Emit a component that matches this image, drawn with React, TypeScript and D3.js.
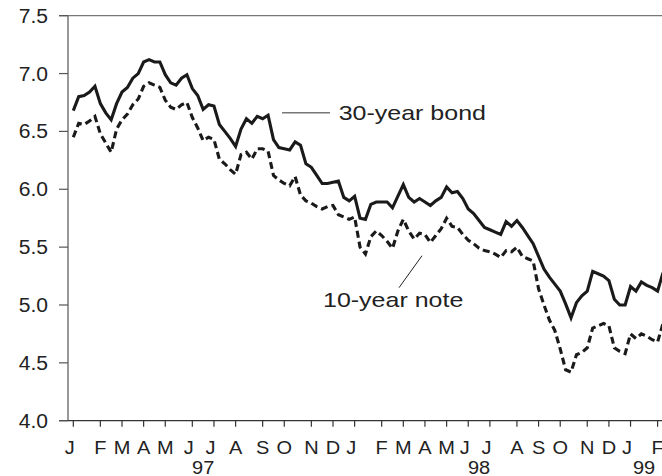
import React from "react";
import * as d3 from "d3";

// Weekly yields, first week of Jan 1997 through early Feb 1999
const bond30: number[] = [
  6.68, 6.8, 6.81, 6.84, 6.89, 6.74, 6.66, 6.6, 6.74, 6.84,
  6.88, 6.96, 7.0, 7.1, 7.12, 7.1, 7.1, 6.99, 6.92, 6.9,
  6.96, 6.99, 6.87, 6.81, 6.69, 6.73, 6.72, 6.56, 6.5, 6.44,
  6.37, 6.52, 6.61, 6.57, 6.63, 6.61, 6.64, 6.43, 6.36, 6.35,
  6.34, 6.41, 6.38, 6.22, 6.19, 6.12, 6.05, 6.05, 6.06, 6.07,
  5.93, 5.9, 5.94, 5.75, 5.74, 5.87, 5.89, 5.89, 5.89, 5.84,
  5.94, 6.04, 5.93, 5.89, 5.92, 5.89, 5.86, 5.9, 5.93, 6.02,
  5.97, 5.98, 5.92, 5.83, 5.79, 5.73, 5.67, 5.65, 5.63, 5.61,
  5.72, 5.68, 5.73, 5.67, 5.6, 5.53, 5.42, 5.31, 5.24, 5.18,
  5.12, 5.01, 4.89, 5.02, 5.08, 5.12, 5.29, 5.27, 5.25, 5.21,
  5.05, 5.0, 5.0, 5.16, 5.12, 5.2, 5.17, 5.15, 5.12, 5.28,
];

const note10: number[] = [
  6.45, 6.57, 6.56, 6.59, 6.63, 6.48, 6.4, 6.32, 6.52, 6.6,
  6.65, 6.73, 6.78, 6.89, 6.92, 6.9, 6.88, 6.77, 6.71, 6.69,
  6.73, 6.75, 6.62, 6.53, 6.42, 6.45, 6.43, 6.26, 6.22, 6.17,
  6.13, 6.3, 6.32, 6.26, 6.35, 6.35, 6.33, 6.12, 6.08, 6.05,
  6.03, 6.11, 5.95, 5.9, 5.88, 5.85, 5.83, 5.85, 5.86, 5.78,
  5.76, 5.74, 5.76, 5.5, 5.44, 5.59, 5.64, 5.6, 5.55, 5.49,
  5.64, 5.74, 5.64, 5.57, 5.62, 5.61, 5.54, 5.6, 5.66, 5.75,
  5.68, 5.67, 5.61, 5.56, 5.53, 5.49, 5.47, 5.46, 5.44, 5.41,
  5.47, 5.46, 5.5, 5.42, 5.4, 5.38, 5.14, 5.0, 4.87, 4.78,
  4.62, 4.44, 4.42, 4.57, 4.59, 4.63, 4.8, 4.82, 4.84, 4.82,
  4.63, 4.6, 4.58, 4.75, 4.71, 4.75, 4.73, 4.7, 4.68, 4.84,
];

// Week index of the first week of each month
const monthTickIdx = [0, 5, 9, 13, 17, 22, 26, 30, 35, 39, 44, 48, 52, 57, 61, 65, 69, 73, 77, 82, 86, 90, 95, 99, 103, 108];
const monthLabels = ["J", "F", "M", "A", "M", "J", "J", "A", "S", "O", "N", "D", "J", "F", "M", "A", "M", "J", "J", "A", "S", "O", "N", "D", "J", "F"];
const yearLabels = ["97", "98", "99"];
const yearLabelIdx = [24, 75, 105.5];
const yTicks = [4.0, 4.5, 5.0, 5.5, 6.0, 6.5, 7.0, 7.5];

export default function App() {
  const W = 662;
  const H = 476;
  const left = 68;
  const x = d3.scaleLinear().domain([0, 108]).range([73.3, 657.6]);
  const y = d3.scaleLinear().domain([4, 7.5]).range([420.7, 15.7]);
  const line = d3
    .line<number>()
    .x((_, i) => x(i))
    .y((d) => y(d))
    .curve(d3.curveLinear);

  const font = "'Liberation Sans', Arial, Helvetica, sans-serif";
  const axisSx = 1.08;
  const annSx = 1.19;
  const textColor = "#222";

  return (
    <svg
      width={W}
      height={H}
      style={{ position: "absolute", left: 0, top: 0, background: "#fff" }}
    >
      {/* frame */}
      <line x1={59} x2={W} y1={y(7.5)} y2={y(7.5)} stroke="#777" strokeWidth={1.3} />
      <line x1={left} x2={left} y1={y(7.5)} y2={y(4)} stroke="#777" strokeWidth={1.5} />
      <line x1={59} x2={W} y1={y(4)} y2={y(4)} stroke="#333" strokeWidth={1.3} />

      {/* y ticks & labels */}
      {yTicks.map((t) => (
        <g key={t}>
          <line x1={59} x2={left} y1={y(t)} y2={y(t)} stroke="#555" strokeWidth={1.2} />
          <text
            transform={`translate(48,${y(t)}) scale(${axisSx},1)`}
            dy="0.36em"
            textAnchor="end"
            fontFamily={font}
            fontSize={19.5}
            fill={textColor}
          >
            {t.toFixed(1)}
          </text>
        </g>
      ))}

      {/* x ticks & month labels */}
      {monthTickIdx.map((idx, k) => (
        <g key={k}>
          <line x1={x(idx)} x2={x(idx)} y1={y(4)} y2={y(4) + 6} stroke="#333" strokeWidth={1.2} />
          <text
            transform={`translate(${x(idx) + (monthLabels[k] === "J" ? -3.5 : 0)},454) scale(${axisSx},1)`}
            textAnchor="middle"
            fontFamily={font}
            fontSize={18.5}
            fill={textColor}
          >
            {monthLabels[k]}
          </text>
        </g>
      ))}
      {yearLabels.map((lab, k) => (
        <text
          key={lab}
          transform={`translate(${x(yearLabelIdx[k])},474) scale(${axisSx},1)`}
          textAnchor="middle"
          fontFamily={font}
          fontSize={18.5}
          fill={textColor}
        >
          {lab}
        </text>
      ))}

      {/* series */}
      <path d={line(note10) || ""} fill="none" stroke="#1a1a1a" strokeWidth={3.1} strokeDasharray="7,4" strokeLinejoin="miter" />
      <path d={line(bond30) || ""} fill="none" stroke="#1a1a1a" strokeWidth={3.1} strokeLinejoin="miter" />

      {/* annotations */}
      <line x1={282} x2={330} y1={112.7} y2={112.7} stroke="#777" strokeWidth={1.5} />
      <text
        transform={`translate(338.7,120) scale(${annSx},1)`}
        fontFamily={font}
        fontSize={21}
        fill={textColor}
      >
        30-year bond
      </text>
      <line x1={399} x2={422} y1={287.7} y2={255.7} stroke="#222" strokeWidth={1} />
      <text
        transform={`translate(323,306.7) scale(${annSx},1)`}
        fontFamily={font}
        fontSize={21}
        fill={textColor}
      >
        10-year note
      </text>
    </svg>
  );
}
